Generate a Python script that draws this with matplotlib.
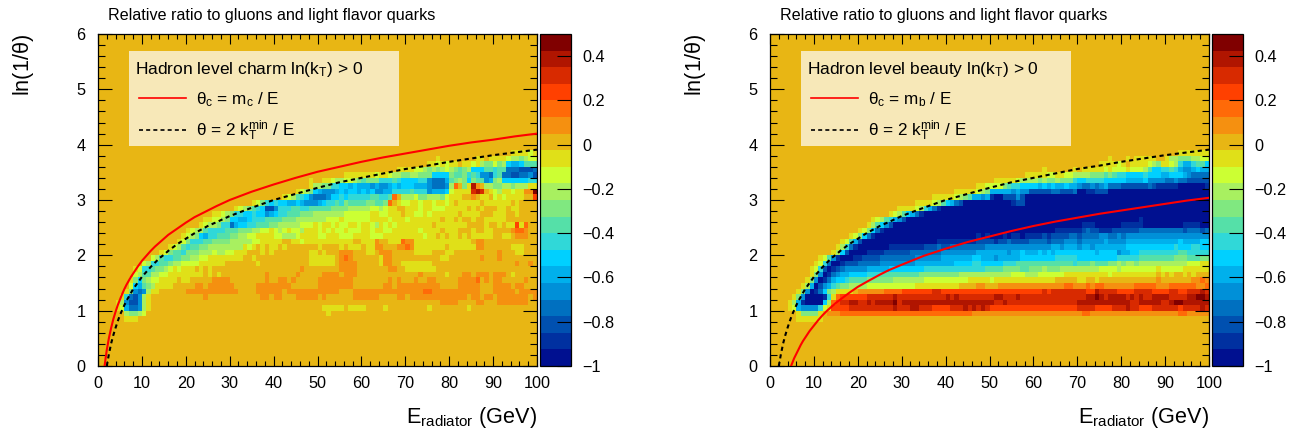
import matplotlib
matplotlib.use("Agg")
import matplotlib.pyplot as plt
import numpy as np
from matplotlib.colors import ListedColormap, BoundaryNorm
from matplotlib.patches import Rectangle
from matplotlib.ticker import MultipleLocator

plt.rcParams['font.family'] = ['Liberation Sans', 'DejaVu Sans']
plt.rcParams['mathtext.fontset'] = 'custom'
plt.rcParams['mathtext.rm'] = 'Liberation Sans'
plt.rcParams['mathtext.it'] = 'Liberation Sans'
plt.rcParams['mathtext.bf'] = 'Liberation Sans'
plt.rcParams['axes.linewidth'] = 0.9

W, H = 1307, 436

# palette, one colour per contour band, from -1 to 0.5
band_colors = ['#001090', '#0030a0', '#0050b0', '#0070c0', '#0090d8', '#00b0ec', '#00d0ff',
               '#30d8d8', '#55e0a8', '#80e880', '#a8f060', '#ccff33', '#e0e018', '#e8b614',
               '#f59010', '#ff6a08', '#ff4000', '#d82a00', '#b01500', '#800000']
band_edges = [-1 + 0.075 * i for i in range(21)]
level_chars = 'abcdefghijklmnopqrst'
E_bins = 100
ln_bins = 60
blank = 'nnnnnnnnnn'

N = blank
# one key per ln(1/theta) bin (0.1 wide); ten groups of ten 1-GeV cells; letter = contour band
charm_rows = {
    38: f"{N} {N} {N} {N} {N} {N} {N} {N} {N} nnnnmmmmlm",
    37: f"{N} {N} {N} {N} {N} {N} {N} nnnnnnnmnn nnnnnnmmnm mmmlkkjkll",
    36: f"{N} {N} {N} {N} {N} {N} {N} nnnnnmmlml mmnmmlmkjj ljkgffgiii",
    35: f"{N} {N} {N} {N} {N} {N} nnnnnnnnmm mmllkjkjkl kjijkgggii hiidddcccd",
    34: f"{N} {N} {N} {N} {N} nnnnnnmmmm mmmlmmlkkj jkkjjjgggg jiijhiheed hiddccddec",
    33: f"{N} {N} {N} {N} nnnnnnnnmn nmmlkkllkj ijjjhhhihg ggghhedddf ijkjgjiief jkgggggghh",
    32: f"{N} {N} {N} {N} nnnnnnnnmk kjjhhggfgf ffefeefgfg ggfffeddde kpnjmsonkk jjkkjkkkmm",
    31: f"{N} {N} {N} {N} nnnnnmlkjg feeefgfggf gfgeeffhhh hihhhefffg lmmmmrsrnm lkmmlmmoot",
    30: f"{N} {N} {N} {N} nnmlkihged ddegghghhh hhiihhipnk kkljjkkkjl mmmnnonmmn lmlmmmmnnq",
    29: f"{N} {N} {N} nnnnnmljhg hggffgfeee fghhihjiii ijjiijpnml lmmlmmlmml mnmmmmmnmm mmmmnmnnnn",
    28: f"{N} {N} {N} nmlkjihgcc ehhhiihhii iiijjjjkkk kkllklmmnn mmmlmmlllm mmmmnmnmnn nmmnmmnnnn",
    27: f"{N} {N} nnnnnnmmlk jhhgghggef ghhiiijjjk kkkkkkllll llmmllmmmn mmllmlmmmm mmnmmmmnnn mmmnnmnnnn",
    26: f"{N} {N} nnnnmmllkj ggffghhhii iijjjkkkkk kklllmllll llmmmmlmmm lmmmmmmmnm mnmnnmnnmm mmmnnnnnnn",
    25: f"{N} {N} nnnmlkkjhh dfgghhiiij jkkkkklllm lmmlmllmml mmlkmlmlmm mmmmmmnmmm mmmmnnnnmn nmnmmqmpnn",
    24: f"{N} {N} mlkkihhhhi iijjjkkllm lklmllkmmm lmlmllmlll mmlmmllmmm mmmlmmmmnm mmnnnmnnmm nnnnopponn",
    23: f"{N} nnnnnnnnnm lkjgfhhiii jjkkllmmmm llkkklmmmm llmmmlllmm mmlllmmmmm mmmmlmmnmn mmnmnmmmmm nnmmnooonn",
    22: f"{N} nnnnnnnnml jhhhiijjjj kkkkkllmmm mmnnmmlmmm mmmmmmmmnn mmmonnmmmp oommmmmmmm mmmmmnoonn {N}",
    21: f"{N} nnnnnnmlki hiijjkkkkk kkkmlmnmnm mnmnnnnnnn mnnnnmnmmm nmmoonnnoo pommmmmmmn mmmmmmoonn nnnnmmmnnn",
    20: f"{N} nnnnmljiih jjjkkklkkl lmmmnnnmnm nnnnnnnnmm nmnnnooonn nmmnooonnn nnmmmmnnnm mnnnnnnnnn nonnnmmnnn",
    19: f"{N} nnlkihhiij jkkllmmmmm mmmnnmnnnn nnnnnnnnmm mmmmnoponn nnnnmoonnn nnnnnnnnmm nnnnnnnonn nonnnnnnnn",
    18: f"{N} lkhhiijkkl lllmmmmmmn nnnnnnmnnn nnnnnnnnmm mmmmnoooon nnnnmoonnm mmmmmmnnnn {N} nnnnnonnon",
    17: f"nnnnnnnnml hhijjklmlm mmnmnmnnnn {N} nnnnnnonnn nnnnnoooon nnnnnnoonn mmmmmmmnnn {N} {N}",
    16: f"nnnnnnnnlk iikkllmmmm mmmmnmnmnn nnnnnnnnon nnnnnonnnn noooonooon {N} nnnonnnnnm nnnoonooon ooonmnnnnn",
    15: f"nnnnnnnmjg jkllmmmmnm mnnnnnoooo nnnnnnnnon noononnnnn oooooooonn nnnnnnonon nnonnoonnn nnoooopnon oonnnnnonn",
    14: f"nnnnnnnlgf ijkmmmmnnn nnoonooooo onnnnnoooo oooonnnnnn oooooooonn nnnnnoonoo oooooooonn nnooooonnn oooonoonnn",
    13: f"nnnnnnmjed ekmmnnnnnn oooooooooo oonnnnoooo oonooooooo ooooonnnoo oooooooooo ooooppoooo ooooooonnn ooooonoooo",
    12: f"nnnnnmhdce kmnnnnnnnn nnnnonnnnn nnnnnnnoon oonnnooooo nonnnnnnoo oooonnnnoo nooooooooo oooonoonoo nooooooono",
    11: f"nnnnmkecce kmnnnnnnnn {N} {N} {N} {N} {N} nnnnnnnnoo oonnnnoonn nooooooonn",
    10: f"nnnnmlfdde kmnnnnnnnn {N} {N} {N} nmmmmmnmmm mnnnnmnnnn nnnnnmnnnn nnnnmnnnnn {N}",
    9: f"nnnnnnkjjk lnnnnnnnnn {N} {N} {N} nnmnnnnnnn {N} {N} {N} {N}",
    8: f"nnnnnnmmmn {N} {N} {N} {N} {N} {N} {N} {N} {N}",
}

A = 'aaaaaaaaaa'
beauty_rows = {
    38: f"{N} {N} {N} {N} {N} {N} {N} {N} {N} nnnmmmmmmm",
    37: f"{N} {N} {N} {N} {N} {N} {N} nnnnnnnmnn nmnmmmmmnn mkkjjjkkll",
    36: f"{N} {N} {N} {N} {N} {N} {N} nnnnnmmmml mnmmmmlkjm mlkhffhiig",
    35: f"{N} {N} {N} {N} {N} {N} nnmnnnnnnm nmmmmmlmll lmlllkiggh hihfeefgff",
    34: f"{N} {N} {N} {N} {N} nnnnnnnnmm mmmllmmllk kkkjjjijih hgggghgggf fgggfedddd",
    33: f"{N} {N} {N} {N} {N} nmmmmmlkkk kjkjjkjjjh gghhhhgggg gffffgeeee ddeddccccc",
    32: f"{N} {N} {N} {N} nnnnnnnmml llljihhggg gfgfgffgff eddedefddd ccccccdcbb bbbaaaaaab",
    31: f"{N} {N} {N} {N} nnmmmmmlkj fffffefeec ccccddcccd aabbcccaaa {A} {A}",
    30: f"{N} {N} {N} nnnnnnnmmm mmlkjiffef baacccecaa {A} {A} {A} {A}",
    29: f"{N} {N} {N} nnnmmmmlki gfdcaaaaaa aaaaabccaa {A} {A} {A} {A}",
    28: f"{N} {N} nnnnnnnnnm mmmlkhfdba {A} {A} {A} {A} {A} {A}",
    27: f"{N} {N} nnnnnnnmlk igfdbaaaaa {A} {A} {A} {A} {A} {A}",
    26: f"{N} {N} nnnmlkihfe caaaaaaaaa {A} {A} {A} {A} aaaabaaaaa {A}",
    25: f"{N} {N} nnmkigecaa {A} {A} {A} {A} abbbaaaaaa bbbbbaaaaa aaaabbbbaa",
    24: f"{N} {N} mljgdbaaaa {A} {A} {A} aaaaabbbbb bcdccbbbcc ccccdddddd ddddcdddcd",
    23: f"{N} nnnnnnnnml jgdbaaaaaa {A} aaaaaaabab aaababbabb bbcbccccdd cddddeedde deeeeeeeee {'eeeeeeeeee'}",
    22: f"{N} nnnnnnmlif caaaaaaaaa aaaaaaaabb bbbbbbbccc cbccdccccd dddcdddeee deeeeefeee efffffffff fffgffffgg",
    21: f"{N} nnnnnmkhdb aaaaaaabbb bbbbbcccdc cdddddddde {'eeeeeeeeee'} eeeeffefff effeffffff fggggggggg gghggghhgg",
    20: f"{N} nnnnmkgcaa aabbbbcccc ccddddddde eeeeeeefff ffffeffgff fgfgfggggg ggggfgggge ffgghhhhhh hhhiihhhhh",
    19: f"{N} nmliebaaab bccccddddd dddeeeeeef ffffffggff fefffffggg ggggghhhhh gggggggggh hhhhiiiiii iijjjiiijj",
    18: f"{N} mlhdaabccc dddddeeeee eeefffffff ffgggghhgg ggghhhiiii iiiiiiiiih iiijiiijjk jkkjkkkkkk kkkkklllmm",
    17: f"nnnnnnnnnm lhcabcdeee eefffffggg ggggghhhhh hhhhhhhhhi iiijjjjiij jjkjjjkkkk kkkkkllllk llllllllml llllmmmmmm",
    16: f"nnnnnnnnnm jeabdeffgg gghhhiiiii iiiijjjjjj jjjkkkkkkk kkkkklllkk kllllllmmm mmmmmmmlmm mmmmmmmmnm nmnnmnmnnn",
    15: f"nnnnnnnnmj eabdfgghii iijjjjjjkk kkkkklllll lllllmmmmm lmmmmmmmmm mmmmmnnnnn mmnnmnnnnn nnnnnnnnon nnnnnnoopo",
    14: f"nnnnnnnmkf acefhijjkk kkllllllll lllmmmmmmm mmmnnnnoon nnoooooooo oooooooppo oopoppoooo ooopppppoo oppppppoop",
    13: f"nnnnnnmjea bdgjkmmmmn oooooopppp qqqqqqqrrq qqqqqqqqqq qqqqqqqqqq qqrqrrrrrr rrqqsrrrrq qqqrrrrqqq qrrqqrrrsr",
    12: f"nnnnnmjeaa aabhmpqqqq qqrrrrrrsr rrrrrrrrrr srsrrrrrrr rssrrrsrrr rrrrrrrrrr rrsstsrsss srsrsrrsss srrrrsstts",
    11: f"nnnnmkfbaa aagkpqrrss rrsrsssstr ssssssssss ssssssssss srrsrrrrrr rrrrrrrrrr ssssssssss ssrrsssssr rsttssssss",
    10: f"nnnnmlfeee ehlmqqqqrr rrrrrrrrsr rrssrrrqqq qrrrsrsrsr qqqqqqqqqq qqqqqqqqqq rrrrqqqqrr rsrrqqqrrr rrrqrrrrsr",
    9: f"nnnnnnmjjj jmnooopppp pppppppppp pppppppppp ppppppoooo oooooooooo oooooooooo oppooooooo oooooooooo oooppooooo",
    8: f"nnnnnnmmmm mmnnnnnnnn {N} {N} {N} {N} {N} {N} {N} {N}",
}

# curves (E in GeV, ln(1/theta))
charm_E = [1.5, 1.75, 2, 2.5, 3, 3.5, 4, 4.5, 5, 5.5, 6, 6.5, 7, 7.5, 8, 9, 10, 11, 12, 13, 14, 15, 16, 18, 20,
           22, 25, 27, 30, 35, 40, 45, 50, 55, 60, 65, 70, 75, 80, 85, 90, 95, 100]
charm_y = [0, .15, .29, .51, .69, .85, .98, 1.10, 1.20, 1.30, 1.39, 1.47, 1.54, 1.61, 1.67, 1.79, 1.90, 1.99,
           2.08, 2.16, 2.23, 2.30, 2.37, 2.48, 2.59, 2.69, 2.81, 2.89, 3.00, 3.15, 3.28, 3.40, 3.51, 3.60,
           3.69, 3.77, 3.84, 3.91, 3.98, 4.04, 4.09, 4.15, 4.20]
kt_E = [2, 2.5, 3, 3.5, 4, 4.5, 5, 5.5, 6, 6.5, 7, 7.5, 8, 9, 10, 11, 12, 13, 14, 15, 16, 18, 20, 22, 25, 27, 30,
        35, 40, 45, 50, 55, 60, 65, 70, 75, 80, 85, 90, 95, 100]
kt_y = [0, .22, .41, .56, .69, .81, .92, 1.01, 1.10, 1.18, 1.25, 1.32, 1.39, 1.50, 1.61, 1.70, 1.79, 1.87, 1.95,
        2.01, 2.08, 2.20, 2.30, 2.40, 2.53, 2.60, 2.71, 2.86, 3.00, 3.11, 3.22, 3.32, 3.40, 3.48, 3.56, 3.62,
        3.69, 3.75, 3.81, 3.86, 3.91]
beauty_E = [4.8, 5, 5.5, 6, 6.5, 7, 7.5, 8, 9, 10, 11, 12, 13, 14, 15, 16, 18, 20, 22, 25, 27, 30, 35, 40, 45, 50,
            55, 60, 65, 70, 75, 80, 85, 90, 95, 100]
beauty_y = [0, .04, .14, .22, .30, .38, .45, .51, .63, .73, .83, .92, 1.00, 1.07, 1.14, 1.20, 1.32, 1.43, 1.52,
            1.65, 1.73, 1.83, 1.99, 2.12, 2.24, 2.34, 2.44, 2.53, 2.61, 2.68, 2.75, 2.81, 2.87, 2.93, 2.99, 3.04]

title_text = 'Relative ratio to gluons and light flavor quarks'
cbar_ticks = [-1, -0.8, -0.6, -0.4, -0.2, 0, 0.2, 0.4]
cbar_labels = ['\u22121', '\u22120.8', '\u22120.6', '\u22120.4', '\u22120.2', '0', '0.2', '0.4']
x_ticks = list(range(0, 101, 10))
y_ticks = list(range(0, 7))


def grid_from(rows):
    z = np.full((ln_bins, E_bins), band_edges[13] + 0.0375)
    for r, text in rows.items():
        groups = text.split()
        cells = ''.join((g + 'n' * 10)[:10] for g in groups)
        for c, ch in enumerate(cells[:E_bins]):
            z[r, c] = band_edges[level_chars.index(ch)] + 0.0375
    return z


def px_axes(x0, x1, y0, y1, fig):
    return fig.add_axes([x0 / W, 1 - y1 / H, (x1 - x0) / W, (y1 - y0) / H])


cmap = ListedColormap(band_colors)
norm = BoundaryNorm(band_edges, cmap.N)
fig = plt.figure(figsize=(W / 100, H / 100), dpi=100)


def panel(x0, rows, label, red_label, red_E, red_y):
    ax = px_axes(x0, x0 + 439, 34, 366, fig)
    xe = np.linspace(0, 100, E_bins + 1)
    ye = np.linspace(0, 6, ln_bins + 1)
    mesh = ax.pcolormesh(xe, ye, grid_from(rows), cmap=cmap, norm=norm, edgecolors='none', rasterized=True)
    ax.plot(red_E, red_y, color='#ff0000', lw=1.5, zorder=3)
    ax.plot(kt_E, kt_y, color='black', lw=1.5, ls=(0, (2.0, 1.7)), zorder=3)
    ax.set_xlim(0, 100)
    ax.set_ylim(0, 6)
    ax.set_xticks(x_ticks)
    ax.set_yticks(y_ticks)
    ax.xaxis.set_minor_locator(MultipleLocator(2))
    ax.yaxis.set_minor_locator(MultipleLocator(0.2))
    ax.tick_params(axis='x', which='major', direction='in', top=True, bottom=True, length=7, width=0.8,
                   labelsize=11.7, pad=7.5)
    ax.tick_params(axis='x', which='minor', direction='in', top=True, bottom=True, length=3.5, width=0.8)
    ax.tick_params(axis='y', which='major', direction='in', left=True, right=True, length=10, width=0.8,
                   labelsize=11.7, pad=9)
    ax.tick_params(axis='y', which='minor', direction='in', left=True, right=True, length=5, width=0.8)

    tr = ax.transAxes
    ax_x = lambda px: (px - 98) / 439
    ax_y = lambda py: (366 - py) / 332
    ax.add_patch(Rectangle((ax_x(129), ax_y(146)), 270 / 439, 95 / 332, transform=tr, facecolor='#f7e8b8',
                           edgecolor='none', zorder=4))
    ax.plot([ax_x(139), ax_x(186)], [ax_y(98), ax_y(98)], transform=tr, color='#ff0000', lw=1.2, zorder=5)
    ax.plot([ax_x(139), ax_x(186)], [ax_y(130), ax_y(130)], transform=tr, color='black', lw=1.2,
            ls=(0, (2.4, 1.9)), zorder=5)
    ax.text(ax_x(135), ax_y(74), label, transform=tr, fontsize=12.5, va='baseline', ha='left', zorder=6)
    ax.text(ax_x(196), ax_y(104), red_label, transform=tr, fontsize=12.3, va='baseline', ha='left', zorder=6)
    ax.text(ax_x(196), ax_y(136), r'$\mathrm{\theta}$ = 2 k$_{\mathrm{T}}^{\mathrm{min}}$ / E', transform=tr,
            fontsize=12.3, va='baseline', ha='left', zorder=6)

    fig.text((x0 + 10) / W, 1 - 20 / H, title_text, fontsize=11.6, va='baseline', ha='left')
    fig.text((x0 - 75) / W, 1 - 34 / H, r'ln(1/$\mathrm{\theta}$)', fontsize=15.6, rotation=90, va='top', ha='center')
    fig.text((x0 + 439) / W, 1 - 423 / H, r'E$_{\mathrm{radiator}}$ (GeV)', fontsize=15.6, va='baseline', ha='right')

    cax = px_axes(x0 + 442, x0 + 473, 34, 366, fig)
    cb = fig.colorbar(mesh, cax=cax, boundaries=band_edges, spacing='proportional')
    cb.set_ticks(cbar_ticks)
    cb.set_ticklabels(cbar_labels)
    cb.ax.minorticks_off()
    cax.tick_params(direction='in', length=10, width=0.8, labelsize=11.7, pad=8, right=True)
    cb.outline.set_linewidth(0.9)
    return ax


panel(98, charm_rows, r'Hadron level charm ln(k$_{\mathrm{T}}$) > 0',
      r'$\mathrm{\theta}_{\mathrm{c}}$ = m$_{\mathrm{c}}$ / E', charm_E, charm_y)
panel(770, beauty_rows, r'Hadron level beauty ln(k$_{\mathrm{T}}$) > 0',
      r'$\mathrm{\theta}_{\mathrm{c}}$ = m$_{\mathrm{b}}$ / E', beauty_E, beauty_y)

fig.savefig('out.png', dpi=100)
